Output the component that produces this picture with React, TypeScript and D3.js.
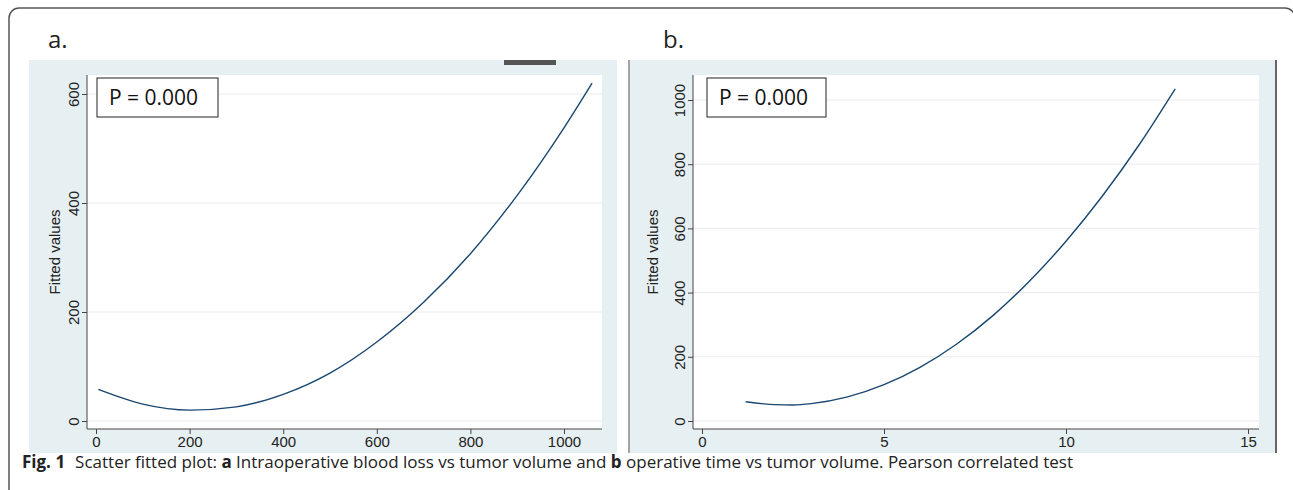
import React, { useRef, useEffect } from "react";
import { select, scaleLinear, axisBottom, axisLeft, line, curveMonotoneX } from "d3";

// panel a: intraoperative blood loss vs tumor volume (fitted curve)
const volumeA = [5, 100, 200, 300, 400, 500, 600, 700, 800, 900, 1000, 1060];
const fittedA = [58, 31, 20, 26, 49, 88, 145, 218, 307, 414, 538, 620];
const xTicksA = [0, 200, 400, 600, 800, 1000];
const yTicksA = [0, 200, 400, 600];

// panel b: operative time vs tumor volume
const volumeB = [1.2, 2, 2.5, 3, 4, 5, 6, 7, 8, 9, 10, 11, 12, 13];
const fittedB = [60, 51, 50, 54, 75, 113, 168, 240, 329, 436, 560, 701, 859, 1035];
const xTicksB = [0, 5, 10, 15];
const yTicksB = [0, 200, 400, 600, 800, 1000];

const panelLabels = ["a.", "b."];
const pText = "P = 0.000";
const yTitle = "Fitted values";

const BG = "#e6eff1";
const LINE = "#1a476f";
const AXIS_FONT = "'Liberation Sans', Arial, sans-serif";
const LABEL_FONT = "'Open Sans', 'Noto Sans', sans-serif";

type PanelProps = {
  xs: number[];
  ys: number[];
  xTicks: number[];
  yTicks: number[];
  xDomain: [number, number];
  yDomain: [number, number];
  xRange: [number, number];
  yRange: [number, number];
  plot: { x0: number; x1: number; y0: number; y1: number };
  bg: { x0: number; x1: number; y0: number; y1: number };
  titleX: number;
  box: { x: number; y: number; w: number; h: number };
  label: string;
  labelX: number;
  borderLeft?: boolean;
  borderRight?: boolean;
};

const Panel = (p: PanelProps) => {
  const gx = useRef<SVGGElement>(null);
  const gy = useRef<SVGGElement>(null);

  const xScale = scaleLinear().domain(p.xDomain).range(p.xRange);
  const yScale = scaleLinear().domain(p.yDomain).range(p.yRange);

  useEffect(() => {
    const xAxis = axisBottom(xScale).tickValues(p.xTicks).tickSize(5).tickFormat((d) => String(d));
    const xg = select(gx.current).call(xAxis);
    xg.select(".domain").remove();
    xg.selectAll("line").attr("stroke", "#444");
    xg.selectAll("text")
      .attr("y", 7)
      .style("font-family", AXIS_FONT)
      .style("font-size", "15px")
      .attr("fill", "#222");

    const yAxis = axisLeft(yScale).tickValues(p.yTicks).tickSize(5).tickFormat((d) => String(d));
    const yg = select(gy.current).call(yAxis);
    yg.select(".domain").remove();
    yg.selectAll("line").attr("stroke", "#444");
    yg.selectAll("text")
      .attr("transform", "rotate(-90)")
      .attr("x", 0)
      .attr("y", -8)
      .attr("dy", 0)
      .style("text-anchor", "middle")
      .style("font-family", AXIS_FONT)
      .style("font-size", "15px")
      .attr("fill", "#222");
  }, []);

  const pts = p.xs.map((x, i) => [x, p.ys[i]] as [number, number]);
  const path = line<[number, number]>()
    .x((d) => xScale(d[0]))
    .y((d) => yScale(d[1]))
    .curve(curveMonotoneX)(pts);

  const { plot, bg } = p;
  return (
    <g>
      <text x={p.labelX} y={48} fontFamily={LABEL_FONT} fontSize={24} fill="#222">
        {p.label}
      </text>
      <rect x={bg.x0} y={bg.y0} width={bg.x1 - bg.x0} height={bg.y1 - bg.y0} fill={BG} />
      {p.borderLeft && <line x1={bg.x0} x2={bg.x0} y1={bg.y0} y2={bg.y1} stroke="#888" strokeWidth={1.5} />}
      {p.borderRight && <line x1={bg.x1} x2={bg.x1} y1={bg.y0} y2={bg.y1} stroke="#666" strokeWidth={2} />}
      <rect x={plot.x0} y={plot.y0} width={plot.x1 - plot.x0} height={plot.y1 - plot.y0} fill="#fff" />
      {p.yTicks.map((t) => (
        <line key={t} x1={plot.x0} x2={plot.x1} y1={yScale(t)} y2={yScale(t)} stroke="#ebebeb" strokeWidth={1} />
      ))}
      <line x1={plot.x0} x2={plot.x0} y1={plot.y0} y2={plot.y1} stroke="#444" strokeWidth={1} />
      <line x1={plot.x0} x2={plot.x1} y1={plot.y1} y2={plot.y1} stroke="#444" strokeWidth={1} />
      <g ref={gx} transform={`translate(0,${plot.y1})`} />
      <g ref={gy} transform={`translate(${plot.x0},0)`} />
      <text
        transform={`translate(${p.titleX},${(plot.y0 + plot.y1) / 2}) rotate(-90)`}
        textAnchor="middle"
        fontFamily={AXIS_FONT}
        fontSize={15}
        fill="#222"
      >
        {yTitle}
      </text>
      <path d={path || ""} fill="none" stroke={LINE} strokeWidth={1.4} />
      <rect x={p.box.x} y={p.box.y} width={p.box.w} height={p.box.h} fill="#fff" stroke="#222" strokeWidth={1} />
      <text x={p.box.x + 12} y={p.box.y + 27} fontFamily={LABEL_FONT} fontSize={21} fill="#111">
        {pText}
      </text>
    </g>
  );
};

export default function App() {
  return (
    <svg width={1293} height={490} style={{ position: "absolute", left: 0, top: 0, background: "#fff" }}>
      <rect x={9} y={8} width={1286} height={600} rx={10} fill="none" stroke="#555" strokeWidth={1.5} />
      <Panel
        xs={volumeA}
        ys={fittedA}
        xTicks={xTicksA}
        yTicks={yTicksA}
        xDomain={[0, 1000]}
        yDomain={[0, 600]}
        xRange={[96, 564]}
        yRange={[421, 94]}
        plot={{ x0: 87, x1: 602, y0: 75, y1: 429 }}
        bg={{ x0: 29, x1: 617, y0: 60, y1: 453 }}
        titleX={60}
        box={{ x: 97, y: 78, w: 121, h: 39 }}
        label={panelLabels[0]}
        labelX={48}
      />
      <rect x={504} y={60} width={52} height={5} fill="#555" />
      <Panel
        xs={volumeB}
        ys={fittedB}
        xTicks={xTicksB}
        yTicks={yTicksB}
        xDomain={[0, 15]}
        yDomain={[0, 1000]}
        xRange={[702, 1248]}
        yRange={[421, 100]}
        plot={{ x0: 693, x1: 1259, y0: 75, y1: 429 }}
        bg={{ x0: 629, x1: 1276, y0: 60, y1: 453 }}
        titleX={658}
        box={{ x: 707, y: 78, w: 119, h: 39 }}
        label={panelLabels[1]}
        labelX={663}
        borderLeft
        borderRight
      />
      <text x={22} y={468} fontFamily={LABEL_FONT} fontSize={17} fill="#222">
        <tspan fontWeight="bold">Fig. 1</tspan>
        <tspan dx={10}>Scatter fitted plot: </tspan>
        <tspan fontWeight="bold">a</tspan>
        <tspan> Intraoperative blood loss vs tumor volume and </tspan>
        <tspan fontWeight="bold">b</tspan>
        <tspan> operative time vs tumor volume. Pearson correlated test</tspan>
      </text>
    </svg>
  );
}
